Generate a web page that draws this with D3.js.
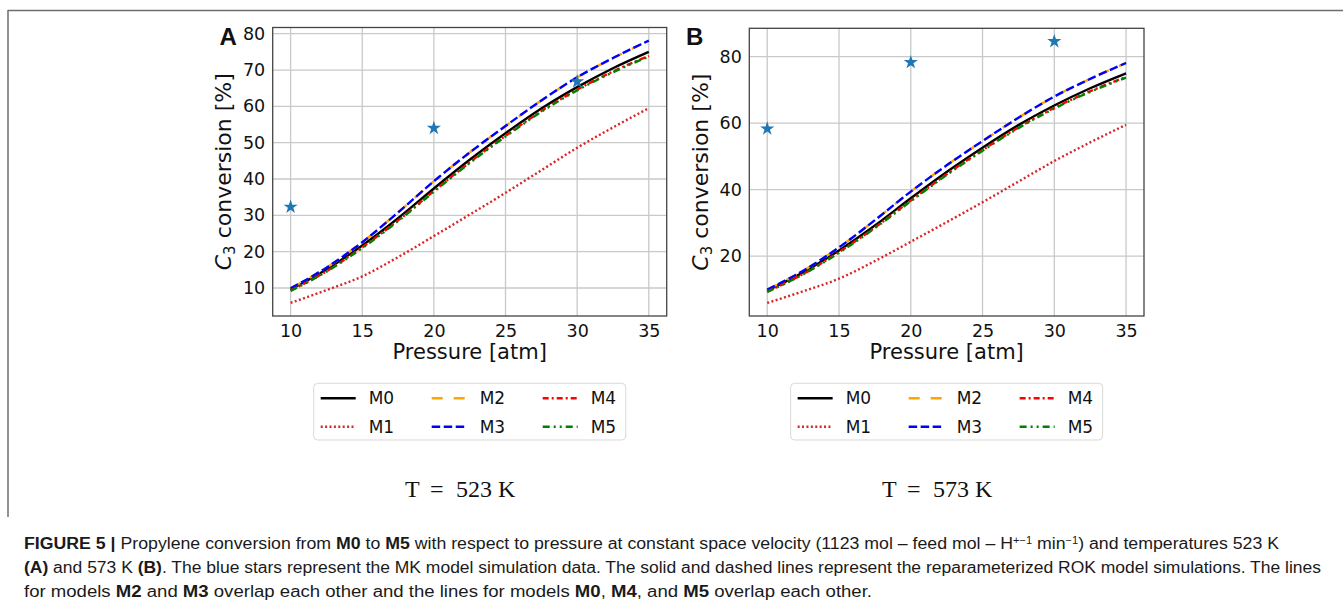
<!DOCTYPE html>
<html>
<head>
<meta charset="utf-8">
<script src="https://cdn.jsdelivr.net/npm/d3@7"></script>
<style>
  body { margin: 0; background: #fff; }
  svg { display: block; }
</style>
</head>
<body>
<div id="chart"></div>
<script>
// values (both panels share the ROK model curves)
const pressure = [10, 12.5, 15, 17.5, 20, 22.5, 25, 27.5, 30, 32.5, 35];
const m0 = [9.6, 15.1, 21.7, 29.2, 37.4, 45.3, 52.6, 59.4, 65.3, 70.5, 75.0];
const m1 = [5.9, 9.4, 13.2, 18.5, 24.3, 30.2, 36.2, 42.4, 48.6, 54.2, 59.5];
const m2 = [9.9, 15.6, 22.6, 30.8, 39.4, 47.3, 54.6, 61.6, 68.0, 73.3, 78.1];
const m3 = [9.9, 15.6, 22.6, 30.8, 39.4, 47.3, 54.6, 61.6, 68.0, 73.3, 78.1];
const m4 = [9.3, 14.6, 21.2, 28.6, 36.7, 44.6, 51.9, 58.7, 64.6, 69.6, 73.9];
const m5 = [9.2, 14.5, 21.0, 28.4, 36.5, 44.4, 51.7, 58.5, 64.4, 69.4, 73.7];

const starPressure = [10, 20, 30];
const starsA = [32.3, 54.0, 66.8];
const starsB = [58.3, 78.3, 84.6];

const modelNames = ['M0', 'M1', 'M2', 'M3', 'M4', 'M5'];
const xTicks = [10, 15, 20, 25, 30, 35];
const yTicksA = [10, 20, 30, 40, 50, 60, 70, 80];
const yTicksB = [20, 40, 60, 80];
const panelLetters = ['A', 'B'];
const panelTemps = ['523', '573'];

const W = 1343, H = 608;
const svg = d3.select('#chart').append('svg')
  .attr('width', W)
  .attr('height', H);

// figure frame (top + left rule)
svg.append('line').attr('x1', 8).attr('x2', W).attr('y1', 10.5).attr('y2', 10.5)
  .attr('stroke', '#6e6e6e').attr('stroke-width', 1.5);
svg.append('line').attr('x1', 8).attr('x2', 8).attr('y1', 10).attr('y2', 517)
  .attr('stroke', '#6e6e6e').attr('stroke-width', 1.5);

const styles = [
  { color: '#000000', dash: null },
  { color: '#d62728', dash: '2,2.4' },
  { color: '#ffa500', dash: '11,11' },
  { color: '#0000ff', dash: '8.5,3.5' },
  { color: '#ff0000', dash: '6,3,2,3' },
  { color: '#008000', dash: '7,4,2,4,2,4' }
];
const series = [m0, m1, m2, m3, m4, m5];

const panels = [
  { left: 272.7, right: 666.7, top: 27.5, bottom: 316, stars: starsA, yTicks: yTicksA, ylabX: 231 },
  { left: 749.3, right: 1144, top: 28.3, bottom: 316, stars: starsB, yTicks: yTicksB, ylabX: 708 }
];

panels.forEach((p, i) => {
  const g = svg.append('g');

  const x = d3.scaleLinear()
    .domain([8.75, 36.25])
    .range([p.left, p.right]);

  const allY = series.flat().concat(p.stars);
  const [lo, hi] = d3.extent(allY);
  const pad = (hi - lo) * 0.05;
  const y = d3.scaleLinear()
    .domain([lo - pad, hi + pad])
    .range([p.bottom, p.top]);

  // grid
  g.append('g')
    .selectAll('line')
    .data(xTicks)
    .enter().append('line')
    .attr('x1', d => x(d)).attr('x2', d => x(d))
    .attr('y1', p.top).attr('y2', p.bottom)
    .attr('stroke', '#c9c9c9').attr('stroke-width', 1.3);
  g.append('g')
    .selectAll('line')
    .data(p.yTicks)
    .enter().append('line')
    .attr('x1', p.left).attr('x2', p.right)
    .attr('y1', d => y(d)).attr('y2', d => y(d))
    .attr('stroke', '#c9c9c9').attr('stroke-width', 1.3);

  // axes
  const xAxis = g.append('g')
    .attr('transform', `translate(0,${p.bottom})`)
    .call(d3.axisBottom(x).tickValues(xTicks).tickSize(0).tickPadding(21));
  const yAxis = g.append('g')
    .attr('transform', `translate(${p.left},0)`)
    .call(d3.axisLeft(y).tickValues(p.yTicks).tickSize(0).tickPadding(7.5));
  [xAxis, yAxis].forEach(a => {
    a.select('.domain').remove();
    a.selectAll('text')
      .attr('fill', '#111')
      .style('font-family', 'DejaVu Sans')
      .style('font-size', '17.5px');
  });
  xAxis.selectAll('text').attr('dy', 0);

  // curves
  const line = d3.line()
    .x((d, j) => x(pressure[j]))
    .y(d => y(d))
    .curve(d3.curveMonotoneX);

  series.forEach((s, k) => {
    g.append('path')
      .datum(s)
      .attr('d', line)
      .attr('fill', 'none')
      .attr('stroke', styles[k].color)
      .attr('stroke-width', 2.4)
      .attr('stroke-dasharray', styles[k].dash);
  });

  // MK simulation stars
  g.selectAll('.star')
    .data(p.stars)
    .enter().append('path')
    .attr('class', 'star')
    .attr('transform', (d, j) => `translate(${x(starPressure[j])},${y(d)})`)
    .attr('d', d3.symbol().type(d3.symbolStar).size(62))
    .attr('fill', '#1f77b4');

  // frame
  g.append('rect')
    .attr('x', p.left).attr('y', p.top)
    .attr('width', p.right - p.left).attr('height', p.bottom - p.top)
    .attr('fill', 'none').attr('stroke', '#444').attr('stroke-width', 1.3);

  // axis labels
  g.append('text')
    .attr('x', (p.left + p.right) / 2)
    .attr('y', 359)
    .attr('text-anchor', 'middle')
    .style('font-family', 'DejaVu Sans')
    .style('font-size', '21px')
    .attr('fill', '#111')
    .text('Pressure [atm]');

  const yl = g.append('text')
    .attr('transform', `translate(${p.ylabX},${(p.top + p.bottom) / 2}) rotate(-90)`)
    .attr('text-anchor', 'middle')
    .style('font-family', 'DejaVu Sans')
    .style('font-size', '22px')
    .attr('fill', '#111');
  yl.append('tspan').style('font-style', 'italic').text('C');
  yl.append('tspan').attr('baseline-shift', '-3.5px').style('font-size', '15px').text('3');
  yl.append('tspan').text(' conversion [%]');

  // panel letter
  g.append('text')
    .attr('x', i === 0 ? 219.5 : 686)
    .attr('y', 45)
    .style('font-family', 'Liberation Sans')
    .style('font-weight', 'bold')
    .style('font-size', '24px')
    .attr('fill', '#111')
    .text(panelLetters[i]);

  // legend
  const cx = (p.left + p.right) / 2;
  const lg = g.append('g').attr('transform', `translate(${cx - 156},383.3)`);
  lg.append('rect')
    .attr('width', 312).attr('height', 56.7)
    .attr('rx', 4)
    .attr('fill', '#fff')
    .attr('stroke', '#d9d9d9')
    .attr('stroke-width', 1);
  modelNames.forEach((name, k) => {
    const col = Math.floor(k / 2), row = k % 2;
    const hx = 7 + col * 111, hy = 15 + row * 28.5;
    lg.append('line')
      .attr('x1', hx).attr('x2', hx + 35)
      .attr('y1', hy).attr('y2', hy)
      .attr('stroke', styles[k].color)
      .attr('stroke-width', 2.4)
      .attr('stroke-dasharray', styles[k].dash);
    lg.append('text')
      .attr('x', hx + 48)
      .attr('y', hy)
      .attr('dy', '0.36em')
      .style('font-family', 'DejaVu Sans')
      .style('font-size', '17px')
      .attr('fill', '#111')
      .text(name);
  });

  // temperature, laid out like LaTeX math: T = 523 K
  const tc = cx - 8.7;
  const tt = g.append('text')
    .attr('y', 496.5)
    .style('font-family', 'Liberation Serif')
    .style('font-size', '24px')
    .attr('fill', '#111');
  tt.append('tspan').attr('x', tc - 56).text('T');
  tt.append('tspan').attr('x', tc - 31).text('=');
  tt.append('tspan').attr('x', tc - 5).text(panelTemps[i]);
  tt.append('tspan').attr('x', tc + 37).text('K');
});

// caption
const capLines = [
  [['FIGURE 5 | ', true], ['Propylene conversion from ', false], ['M0', true], [' to ', false], ['M5', true],
   [' with respect to pressure at constant space velocity (1123 mol – feed mol – H', false], ['+−1', false, 'sup'],
   [' min', false], ['−1', false, 'sup'], [') and temperatures 523 K', false]],
  [['(A)', true], [' and 573 K ', false], ['(B)', true],
   ['. The blue stars represent the MK model simulation data. The solid and dashed lines represent the reparameterized ROK model simulations. The lines', false]],
  [['for models ', false], ['M2', true], [' and ', false], ['M3', true],
   [' overlap each other and the lines for models ', false], ['M0', true], [', ', false], ['M4', true],
   [', and ', false], ['M5', true], [' overlap each other.', false]]
];
const capWidths = [1255, 1297, 848];
const capY = [549, 573, 597];

capLines.forEach((parts, i) => {
  const t = svg.append('text')
    .attr('x', 24)
    .attr('y', capY[i])
    .attr('textLength', capWidths[i])
    .attr('lengthAdjust', 'spacingAndGlyphs')
    .style('font-family', 'Liberation Sans')
    .style('font-size', '16px')
    .attr('fill', '#1a1a1a');
  parts.forEach(([txt, bold, sup]) => {
    const ts = t.append('tspan').text(txt);
    if (bold) ts.style('font-weight', 'bold');
    if (sup) ts.attr('baseline-shift', 'super').style('font-size', '10px');
  });
});
</script>
</body>
</html>
